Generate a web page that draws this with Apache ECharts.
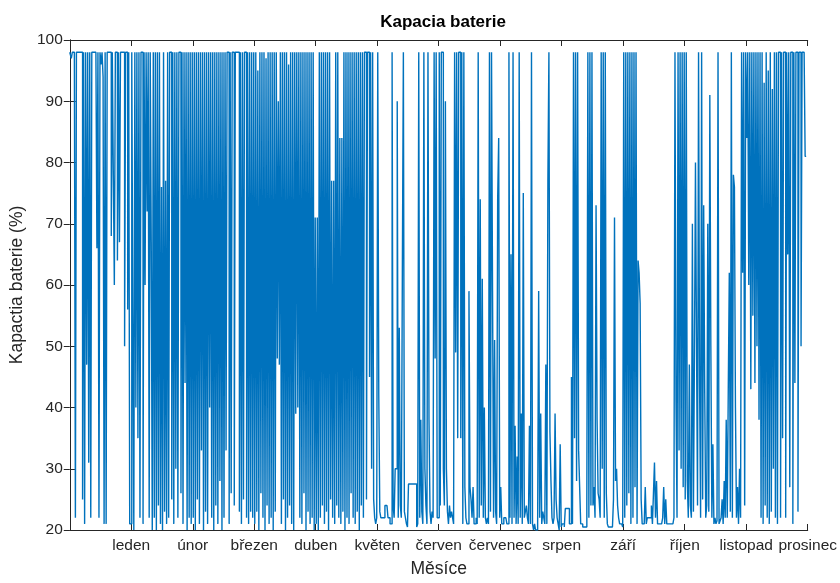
<!DOCTYPE html>
<html>
<head>
<meta charset="utf-8">
<script src="https://cdn.jsdelivr.net/npm/echarts@6/dist/echarts.min.js"></script>
<style>html,body{margin:0;padding:0;background:#fff;}#c{width:840px;height:583px;}</style>
</head>
<body>
<div id="c"></div>
<script>
// Month tick labels (ticks at 1..12)
const monthLabels = ['leden','únor','březen','duben','květen','červen','červenec','srpen','září','říjen','listopad','prosinec'];

const jan = [98,98,97,98,98,98,22,98,98,98,98,98,98,25,98,21,98,47,98,31,98,22,98,98,98,98,98,66,98,22,98,96,98,94,21,98,21,98,98,98,98,68,98,78,60,98,98,64,98,67,98,98,98,98,50,98,98,56,98,21];
const feb = [21,98,55,20,98,40,98,35,98,22,98,98,21,98,60,98,72,98,22,98,67,20,98,22,98,20,98,24,98,21,76,20,98,23,77,21,98,22,98,98,25,98,21,98,30,98,22,98,98,26,98,21,98,44,98,20,98,22,98,21];
const mar = [98,22,98,20,98,25,98,21,98,33,98,20,98,23,98,21,98,40,98,22,98,20,98,24,98,21,98,28,98,20,98,22,98,33,98,98,21,98,26,98,98,24,98,98,98,98,23,98,21,98,25,98,98,22,98,21,98,23,98,22];
const apr = [98,21,98,23,95,20,98,26,98,22,98,20,97,24,98,21,98,22,98,20,98,23,98,48,90,47,98,21,98,25,98,20,98,22,96,24,98,21,98,20,98,39,98,40,98,22,98,21,98,26,98,20,98,23,98,21,98,22,98,20];
const may = [71,21,71,20,98,22,98,24,98,21,98,23,98,20,98,25,77,22,77,21,98,24,98,22,84,21,84,23,98,20,98,22,98,21,98,26,98,22,98,21,98,23,98,20,98,24,98,22,98,98,25,98,98,45,98,30,98,25,22,21];
const jun = [22,98,42,23,22,22,22,22,24,24,24,22,22,21,21,98,24,22,30,30,90,22,53,24,22,62,98,23,22,21,20.5,27.5,27.5,27.5,27.5,27.5,27.5,27.5,27.5,20.5,21,98,22,38,23,21,98,30,24,21,98,38,23,21,23,22,98,48,98,22];
const jul = [22,98,24,98,98,30,24,90,30,23,21,24,22,23,22,21,98,49,98,35,98,98,35,98,21,98,27,22,21,21,59,27,25,22,27,21,21,22,21,98,22,74,24,61,22,40,22,21,22,21,98,23,98,59,22,51,23,21,74,84];
const aug = [22,27,21,21,22,22,22,21,21,98,22,65,21,98,22,37,21,32,21,98,22,39,21,75,22,23,24,22,21,37,21,98,21,20,21,20,20,21,59,22,39,21,23,22,21,47,21,77,98,36,28,22,21,22,39,25,22,21,20,34];
const sep = [20.5,21,21,20.5,23.5,23.5,23.5,23.5,21,21,45,21,98,35,98,28,98,33,27,21,21,20.5,20.5,20.5,20.5,25,98,22,98,24,98,24,27,22,73,38,26,25,22,98,30,98,22,98,26,21,20.5,20.5,20.5,20.5,20.5,25,71,28,30,24,22,21,21,21];
const oct = [20.5,98,22,98,24,98,26,98,21,98,22,98,27,98,21,64,62,57,25,21,21,21,27,21,22,22,22,22,24,21,26,31,22,28,21,21,21,21,21,22,27,21,25,21,21,21,21,21,21,21,22,98,41,22,98,33,98,30,98,27];
const nov = [98,25,98,28,22,47,24,22,70,23,49,80,51,24,98,44,22,98,25,73,43,22,24,70,23,91,50,22,34,21,22,21,21.5,98,21,21.5,22,25,21,28,22,38,22,43,62,23,98,22,78,76,40,22,27,21,30,22,98,62,98,24];
const dec = [98,84,98,60,98,43,98,55,98,44,98,50,98,38,98,22,98,21,93,24,98,22,95,21,98,23,92,30,98,22,98,21,98,98,22,98,35,98,98,22,98,65,98,27,98,98,21,98,44,98,98,23,98,98,50,98,98,98,81,81];

const monthly = [jan,feb,mar,apr,may,jun,jul,aug,sep,oct,nov,dec];
const points = [];
monthly.forEach((arr, k) => arr.forEach((v, i) => points.push([k + i / arr.length, v])));

const axisColor = '#262626';
const font = 'Liberation Sans, Arial, Helvetica, sans-serif';
const chart = echarts.init(document.getElementById('c'), null, {renderer: 'canvas'});
chart.setOption({
  animation: false,
  backgroundColor: '#fff',
  title: {
    text: 'Kapacia baterie',
    left: 438, top: 9, textAlign: 'center',
    textStyle: {fontSize: 17, fontWeight: 'bold', color: '#000', fontFamily: font}
  },
  grid: {left: 67, right: 30, top: 40, bottom: 51, containLabel: false},
  xAxis: [{
    type: 'value', min: 0, max: 12, interval: 1, position: 'bottom',
    axisLine: {show: true, lineStyle: {color: axisColor, width: 1}},
    axisTick: {show: true, inside: true, length: 6, lineStyle: {color: axisColor}},
    axisLabel: {show: true, showMinLabel: true, showMaxLabel: true, margin: 8,
      formatter: v => (v >= 1 && v <= 12) ? monthLabels[v - 1] : '',
      color: axisColor, fontSize: 15.5, fontFamily: font},
    splitLine: {show: false},
    name: 'Měsíce', nameLocation: 'middle', nameGap: 30,
    nameTextStyle: {fontSize: 17.5, color: axisColor, fontFamily: font}
  }, {
    type: 'value', min: 0, max: 12, interval: 1, position: 'top',
    axisLine: {show: true, lineStyle: {color: axisColor, width: 1}},
    axisTick: {show: true, inside: true, length: 6, lineStyle: {color: axisColor}},
    axisLabel: {show: false}, splitLine: {show: false}
  }],
  yAxis: [{
    type: 'value', min: 20, max: 100, interval: 10, position: 'left',
    axisLine: {show: true, lineStyle: {color: axisColor, width: 1}},
    axisTick: {show: true, inside: true, length: 6, lineStyle: {color: axisColor}},
    axisLabel: {color: axisColor, fontSize: 15.5, margin: 7, fontFamily: font},
    splitLine: {show: false},
    name: 'Kapactia baterie (%)', nameLocation: 'middle', nameGap: 38,
    nameTextStyle: {fontSize: 17.5, color: axisColor, fontFamily: font}
  }, {
    type: 'value', min: 20, max: 100, interval: 10, position: 'right',
    axisLine: {show: true, lineStyle: {color: axisColor, width: 1}},
    axisTick: {show: true, inside: true, length: 6, lineStyle: {color: axisColor}},
    axisLabel: {show: false}, splitLine: {show: false}
  }],
  series: [{
    type: 'line', xAxisIndex: 0, yAxisIndex: 0,
    data: points, showSymbol: false, symbol: 'none', sampling: null,
    step: 'middle',
    lineStyle: {color: '#0072BD', width: 1.4},
    clip: true
  }]
});
</script>
</body>
</html>
